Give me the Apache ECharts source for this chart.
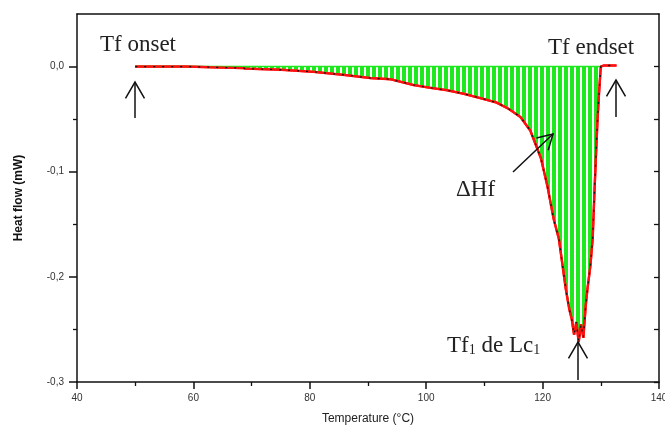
<!DOCTYPE html>
<html><head><meta charset="utf-8">
<script src="https://cdn.jsdelivr.net/npm/echarts@6/dist/echarts.min.js"></script>
<style>html,body{margin:0;padding:0;background:#fff}#c{width:665px;height:433px}</style>
</head><body><div id="c"></div>
<script>
// ---- data ----
const temperature = [50, 58.8, 59.0, 68.6, 69.0, 75.0, 80.7, 86.0, 90.5, 93.8, 97.8, 100.5, 103.6, 106.5, 109.3, 112.0, 114.1, 116.2, 117.9, 119.7, 120.8, 121.9, 122.8, 124.0, 124.6, 125.0, 125.4, 125.8, 126.2, 126.6, 127.0, 127.4, 127.7, 128.2, 128.6, 129.0, 129.4, 129.7, 130.0, 130.5, 132.7];
const heatFlow    = [0, 0, -0.001, -0.0015, -0.002, -0.003, -0.005, -0.008, -0.011, -0.012, -0.0175, -0.02, -0.0225, -0.026, -0.030, -0.034, -0.040, -0.048, -0.061, -0.087, -0.113, -0.145, -0.164, -0.212, -0.231, -0.24, -0.255, -0.243, -0.262, -0.245, -0.258, -0.228, -0.212, -0.19, -0.164, -0.107, -0.055, -0.025, 0, 0.001, 0.001];
const xTicks = [40, 60, 80, 100, 120, 140];
const yTicks = [-0.3, -0.2, -0.1, 0];
const yMinorTicks = [-0.25, -0.15, -0.05];
const xTitle = 'Temperature (°C)';
const yTitle = 'Heat flow (mW)';

const curve = temperature.map((t, i) => [t, heatFlow[i]]);
const topEdge = temperature.filter((t, i) => heatFlow[i] <= 0).map(t => [t, 0]);

// striped green fill
const pc = document.createElement('canvas'); pc.width = 6; pc.height = 4;
const g = pc.getContext('2d');
g.fillStyle = '#ffffff'; g.fillRect(0, 0, 6, 4);
g.fillStyle = '#1ee81e'; g.fillRect(0, 0, 4, 4);

const axisCol = '#111';
const chart = echarts.init(document.getElementById('c'), null, {renderer: 'canvas'});

function arrow(tail, tip, len, angDeg) {
  const dx = tail[0] - tip[0], dy = tail[1] - tip[1];
  const d = Math.hypot(dx, dy), ux = dx / d, uy = dy / d;
  const a = angDeg * Math.PI / 180;
  const r = (c, s) => [tip[0] + len * (ux * c - uy * s), tip[1] + len * (ux * s + uy * c)];
  const p1 = r(Math.cos(a), Math.sin(a)), p2 = r(Math.cos(a), -Math.sin(a));
  const st = {stroke: '#111', lineWidth: 1.5, fill: null};
  return [
    {type: 'polyline', shape: {points: [tail, tip]}, style: st, z: 100},
    {type: 'polyline', shape: {points: [p1, tip, p2]}, style: st, z: 100}
  ];
}
const serif = '"Liberation Serif", "Times New Roman", serif';
function label(x, y, text, rich) {
  return {type: 'text', x: x, y: y, z: 100,
    style: {text: text, font: '23px ' + serif, fill: '#222', verticalAlign: 'bottom', align: 'left', rich: rich}};
}

const graphics = [].concat(
  label(100, 56, 'Tf onset'),
  label(548, 59, 'Tf endset'),
  label(456, 201, 'ΔHf'),
  label(447, 357, 'Tf{s|1} de Lc{s|1}', {s: {fontSize: 14, fontFamily: serif, fill: '#222', verticalAlign: 'bottom'}}),
  arrow([135, 118], [135, 82], 19, 30),
  arrow([616, 117], [616, 80], 19, 30),
  arrow([513, 172], [553, 134], 17, 30),
  arrow([578, 380], [578, 342], 19, 30)
);

chart.setOption({
  animation: false,
  backgroundColor: '#fff',
  grid: {left: 77, right: 6, top: 14, bottom: 51, containLabel: false, outerBoundsMode: 'none'},
  xAxis: [{
    type: 'value', min: xTicks[0], max: xTicks[xTicks.length - 1], interval: 20, position: 'bottom',
    name: xTitle, nameLocation: 'middle', nameGap: 31,
    nameTextStyle: {fontSize: 12, color: '#222', fontFamily: 'Arial, "Liberation Sans"'},
    axisLine: {show: true, onZero: false, lineStyle: {color: axisCol, width: 1.5}},
    axisTick: {show: true, inside: false, length: 7, lineStyle: {color: axisCol, width: 1.5}},
    minorTick: {show: true, splitNumber: 2, length: 4, lineStyle: {color: axisCol, width: 1.3}},
    axisLabel: {fontSize: 10, color: '#333', margin: 11, fontFamily: 'Arial, "Liberation Sans"'},
    splitLine: {show: false}, minorSplitLine: {show: false}
  }, {
    type: 'value', min: xTicks[0], max: xTicks[xTicks.length - 1], position: 'top',
    axisLine: {show: true, onZero: false, lineStyle: {color: axisCol, width: 1.5}},
    axisTick: {show: false}, axisLabel: {show: false}, splitLine: {show: false}
  }],
  yAxis: [{
    type: 'value', min: -0.3, max: 0.05, position: 'left',
    name: yTitle, nameLocation: 'middle', nameGap: 52,
    nameTextStyle: {fontSize: 12, color: '#111', fontFamily: 'Arial, "Liberation Sans"', fontWeight: 'bold'},
    axisLine: {show: true, onZero: false, lineStyle: {color: axisCol, width: 1.5}},
    axisTick: {show: true, inside: false, length: 8, customValues: yTicks, lineStyle: {color: axisCol, width: 1.5}},
    axisLabel: {customValues: yTicks, fontSize: 10, color: '#333', margin: 13, fontFamily: 'Arial, "Liberation Sans"',
      formatter: v => (Math.abs(v) < 1e-9 ? '0,0' : v.toFixed(1).replace('.', ','))},
    splitLine: {show: false}
  }, {
    type: 'value', min: -0.3, max: 0.05, position: 'left',
    axisLine: {show: false, onZero: false},
    axisTick: {show: true, inside: false, length: 4, customValues: yMinorTicks, lineStyle: {color: axisCol, width: 1.3}},
    axisLabel: {show: false}, splitLine: {show: false}
  }, {
    type: 'value', min: -0.3, max: 0.05, position: 'right',
    axisLine: {show: true, onZero: false, lineStyle: {color: axisCol, width: 1.5}},
    axisTick: {show: true, inside: true, length: 5, customValues: yTicks.concat(yMinorTicks), lineStyle: {color: axisCol, width: 1.3}},
    axisLabel: {show: false}, splitLine: {show: false}
  }],
  series: [{
    type: 'line', data: curve, symbol: 'none', z: 2,
    lineStyle: {color: '#ff1010', width: 2.4},
    areaStyle: {color: {image: pc, repeat: 'repeat'}, opacity: 1, origin: 0}
  }, {
    type: 'line', data: topEdge, symbol: 'none', z: 3,
    lineStyle: {color: '#1ee81e', width: 1.5}
  }, {
    type: 'line', data: curve, symbol: 'none', z: 4,
    lineStyle: {color: '#ff1010', width: 2.2}
  }, {
    type: 'line', data: curve, symbol: 'none', z: 5,
    lineStyle: {color: '#111', width: 1.3, type: [2, 7]}
  }],
  graphic: graphics
});
</script></body></html>
